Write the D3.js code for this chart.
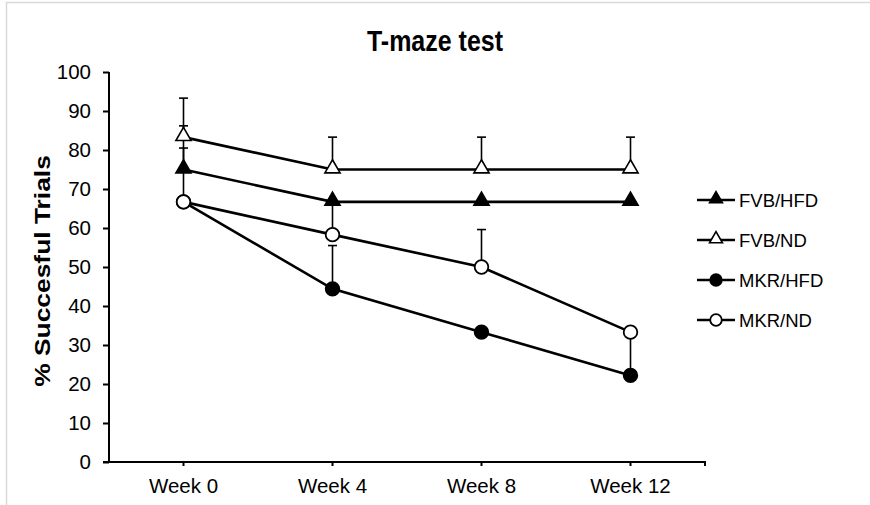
<!DOCTYPE html>
<html>
<head>
<meta charset="utf-8">
<script src="https://cdn.jsdelivr.net/npm/d3@7"></script>
<style>
  html, body { margin: 0; padding: 0; background: #fff; }
  svg { display: block; }
  text { font-family: "Liberation Sans", Arial, sans-serif; fill: #000; }
</style>
</head>
<body>
<svg id="chart" width="870" height="505"></svg>
<script>
// ---- data ----
const weeks = ["Week 0", "Week 4", "Week 8", "Week 12"];
const seriesNames = ["FVB/HFD", "FVB/ND", "MKR/HFD", "MKR/ND"];
const fvbHfd = [75, 66.7, 66.7, 66.7];
const fvbNd = [83.3, 75, 75, 75];
const mkrHfd = [66.7, 44.4, 33.3, 22.2];
const mkrNd = [66.7, 58.3, 50, 33.3];
const fvbHfdErr = [5.5, 0, 0, 0];
const fvbNdErr = [10, 8.3, 8.3, 8.3];
const mkrHfdErr = [0, 11.1, 0, 11.1];
const mkrNdErr = [19.5, 8.3, 9.6, 0];
const yTicks = [0, 10, 20, 30, 40, 50, 60, 70, 80, 90, 100];
const titleText = "T-maze test";
const yLabelText = "% Succesful Trials";

const series = [
  { name: seriesNames[0], values: fvbHfd, err: fvbHfdErr, shape: "triangle", filled: true },
  { name: seriesNames[1], values: fvbNd, err: fvbNdErr, shape: "triangle", filled: false },
  { name: seriesNames[2], values: mkrHfd, err: mkrHfdErr, shape: "circle", filled: true },
  { name: seriesNames[3], values: mkrNd, err: mkrNdErr, shape: "circle", filled: false }
];

const svg = d3.select("#chart");
svg.append("rect").attr("width", 870).attr("height", 505).attr("fill", "#fff");

// outer frame (partial, gray)
svg.append("path")
  .attr("d", "M6.5,505 L6.5,2.5 L870,2.5")
  .attr("fill", "none").attr("stroke", "#d9d9d9").attr("stroke-width", 1.5);

const plot = { left: 109, right: 705, top: 72, bottom: 462 };

const x = d3.scaleBand().domain(weeks).range([plot.left, plot.right]);
const y = d3.scaleLinear().domain([0, 100]).range([plot.bottom, plot.top]);
const cx = d => x(d) + x.bandwidth() / 2;

// title
svg.append("text")
  .attr("transform", "translate(435,51) scale(1,1.15)")
  .attr("text-anchor", "middle")
  .attr("font-size", 25).attr("font-weight", "bold")
  .text(titleText);

// y axis
const yAxis = svg.append("g")
  .attr("transform", `translate(${plot.left},0)`)
  .call(d3.axisLeft(y).tickValues(yTicks).tickSize(6).tickPadding(12).tickFormat(d3.format("d")));
yAxis.select(".domain").attr("stroke", "#000").attr("stroke-width", 2)
  .attr("d", `M0,${plot.top}V${plot.bottom}`);
yAxis.selectAll(".tick line").attr("stroke", "#000").attr("stroke-width", 2);
yAxis.selectAll(".tick text").attr("font-size", 20.5).attr("font-family", "Liberation Sans, Arial, sans-serif").attr("fill", "#333");

// x axis
const xAxis = svg.append("g")
  .attr("transform", `translate(0,${plot.bottom})`)
  .call(d3.axisBottom(x).tickSize(4).tickPadding(12));
xAxis.select(".domain").attr("stroke", "#000").attr("stroke-width", 2)
  .attr("d", `M${plot.left - 6},0H${plot.right}v4`);
xAxis.selectAll(".tick line").attr("stroke", "#000").attr("stroke-width", 2);
xAxis.selectAll(".tick text").attr("font-size", 20.5).attr("font-family", "Liberation Sans, Arial, sans-serif").attr("fill", "#333");

// y label
svg.append("text")
  .attr("transform", `translate(50,271) rotate(-90) scale(1.2,1)`)
  .attr("text-anchor", "middle")
  .attr("font-size", 22).attr("font-weight", "bold")
  .text(yLabelText);

// error bars
const errG = svg.append("g");
series.forEach(s => {
  s.values.forEach((v, i) => {
    const e = s.err[i];
    if (!e) return;
    const px = cx(weeks[i]);
    errG.append("line").attr("x1", px).attr("x2", px)
      .attr("y1", y(v)).attr("y2", y(v + e))
      .attr("stroke", "#000").attr("stroke-width", 1.6);
    errG.append("line").attr("x1", px - 4.5).attr("x2", px + 4.5)
      .attr("y1", y(v + e)).attr("y2", y(v + e))
      .attr("stroke", "#000").attr("stroke-width", 1.6);
  });
});

// lines
const line = d3.line().x((d, i) => cx(weeks[i])).y(d => y(d));
series.forEach(s => {
  svg.append("path").datum(s.values)
    .attr("d", line)
    .attr("fill", "none").attr("stroke", "#000").attr("stroke-width", 2.6);
});

// markers
function drawMarker(g, s, px, py, scale) {
  if (s.shape === "triangle") {
    const sym = d3.symbol().type(d3.symbolTriangle).size(100 * scale * scale);
    g.append("path").attr("d", sym())
      .attr("transform", `translate(${px},${py - 1})`)
      .attr("fill", s.filled ? "#000" : "#fff")
      .attr("stroke", "#000").attr("stroke-width", 1.6);
  } else {
    g.append("circle").attr("cx", px).attr("cy", py).attr("r", 6.8 * scale)
      .attr("fill", s.filled ? "#000" : "#fff")
      .attr("stroke", "#000").attr("stroke-width", 1.8);
  }
}
const markG = svg.append("g");
series.forEach(s => {
  s.values.forEach((v, i) => drawMarker(markG, s, cx(weeks[i]), y(v), 1));
});

// legend
const legG = svg.append("g");
series.forEach((s, i) => {
  const ly = 200 + i * 40;
  legG.append("line").attr("x1", 697).attr("x2", 735).attr("y1", ly).attr("y2", ly)
    .attr("stroke", "#000").attr("stroke-width", 2.6);
  drawMarker(legG, s, 716, ly, 0.85);
  legG.append("text").attr("x", 739).attr("y", ly + 6.5)
    .attr("font-size", 18.5).attr("fill", "#333").text(s.name);
});
</script>
</body>
</html>
